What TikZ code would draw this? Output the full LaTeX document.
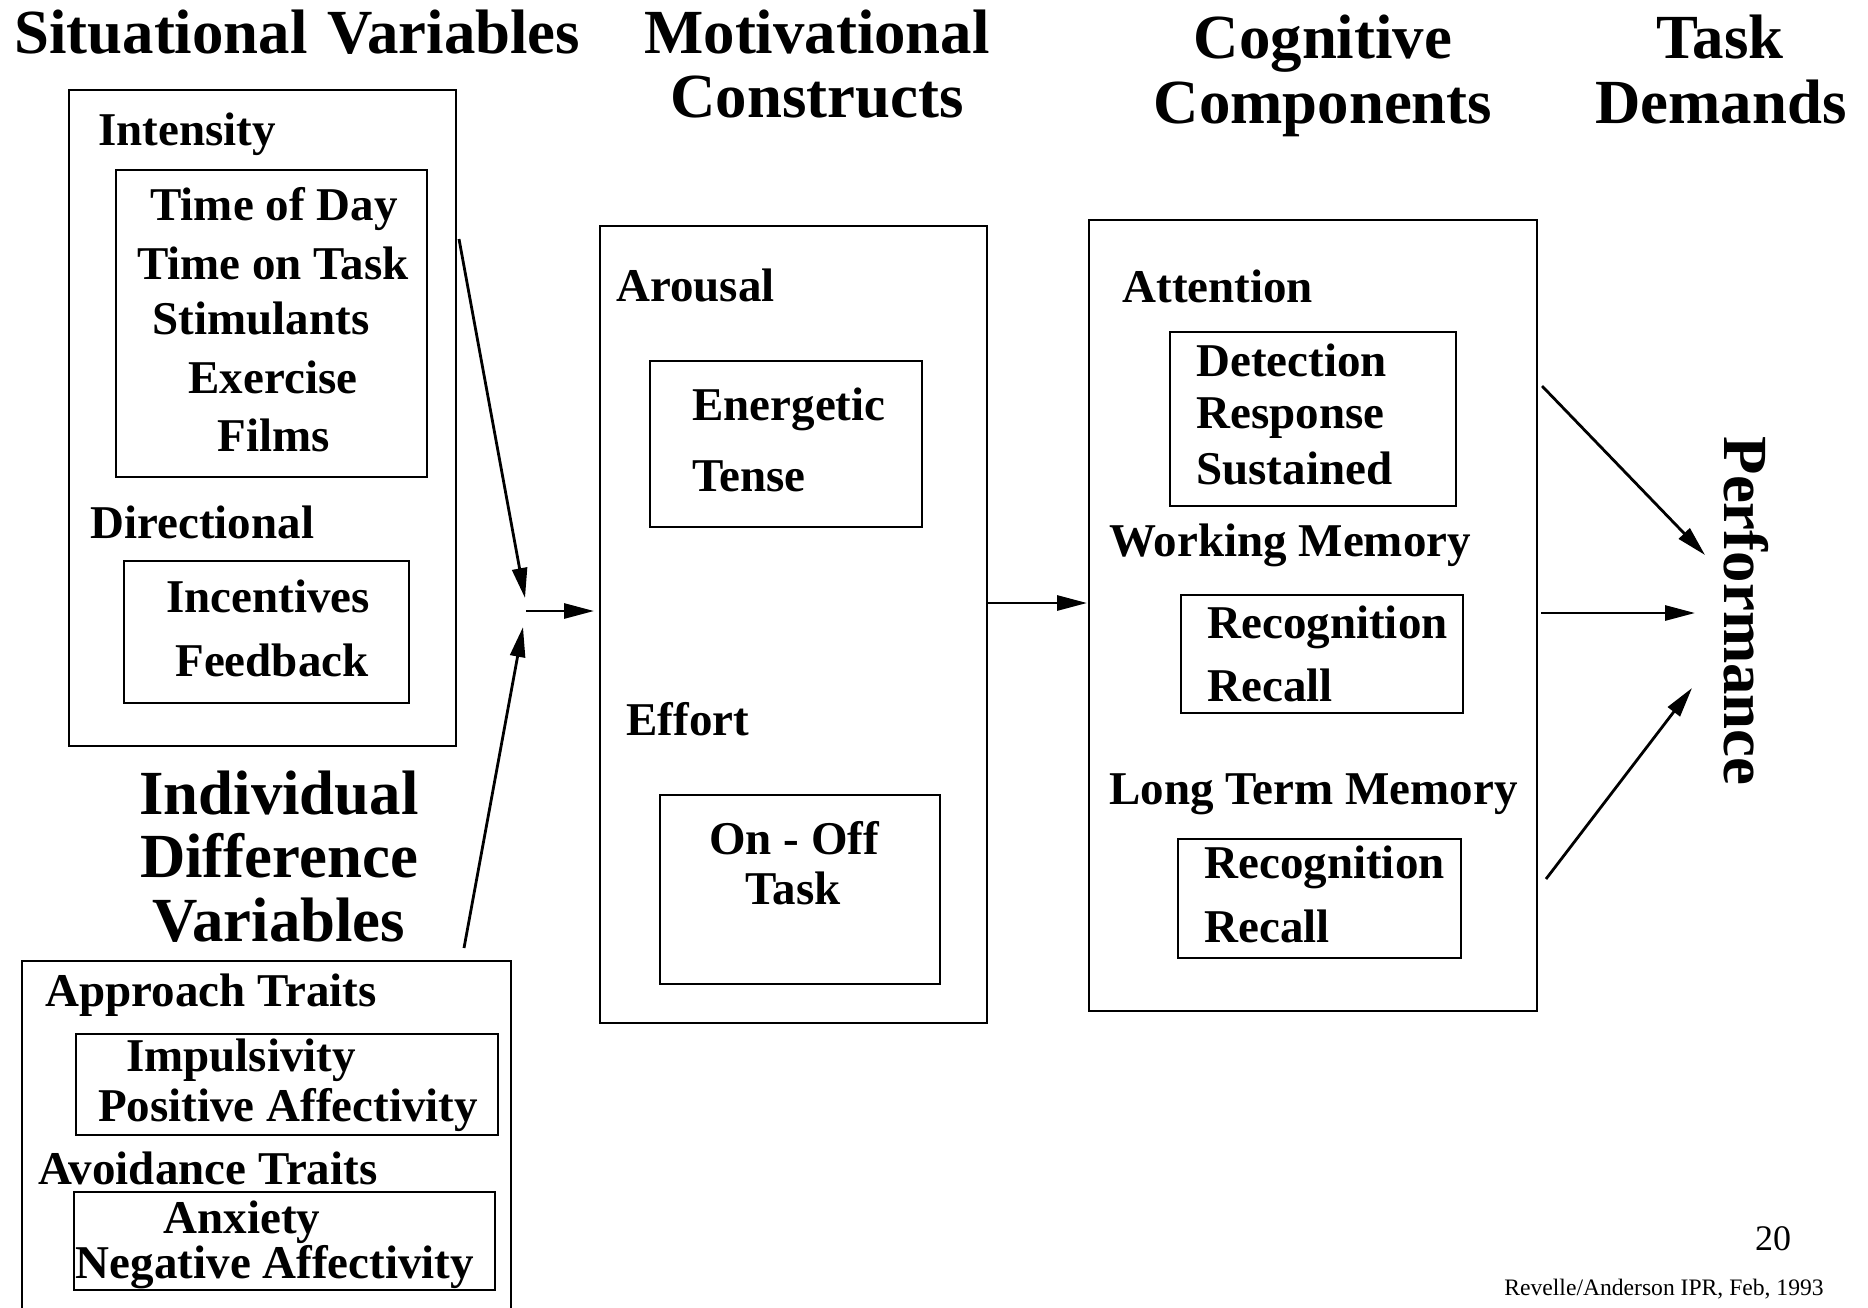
\documentclass[tikz,border=0pt]{standalone}
\usepackage{fontspec}
\setmainfont{Liberation Serif}
\usetikzlibrary{arrows.meta,fit}
\newcommand{\myTitleFont}{\fontsize{31.4}{31.4}\selectfont\bfseries}
\newcommand{\myTextFont}{\fontsize{23.5}{23.5}\selectfont\bfseries}
\begin{document}
\begin{tikzpicture}[x=0.5pt,y=-0.5pt,
  box/.style={draw, line width=1.1pt, inner sep=0pt},
  ttl/.style={font=\myTitleFont, inner sep=0pt, anchor=base},
  lbl/.style={font=\myTextFont, inner sep=0pt, anchor=base west},
  ctr/.style={font=\myTextFont, inner sep=0pt, anchor=base},
  arr/.style={-{Triangle[length=15pt,width=7.5pt]}, line width=1.4pt}]
\useasboundingbox (0,0) rectangle (1868,1307);
\fill[white] (0,0) rectangle (1868,1307);
\clip (0,0) rectangle (1868,1307);

% titles
\node[ttl, anchor=base west] (tsit) at (14,53) {Situational\hspace{0.32em}Variables};
\node[ttl] (tmot1) at (817,53) {Motivational};
\node[ttl] (tmot2) at (817,117) {Constructs};
\node[ttl] (tcog1) at (1323,58) {Cognitive};
\node[ttl] (tcog2) at (1323,123) {Components};
\node[ttl] (ttask1) at (1720,58) {Task};
\node[ttl] (ttask2) at (1721,123) {Demands};
\node[ttl] (tind1) at (279,814) {Individual};
\node[ttl] (tind2) at (279,877) {Difference};
\node[ttl] (tind3) at (279,941) {Variables};
\node[ttl, rotate=-90] (perf) at (1724,611) {Performance};

% situational variables
\node[box, fit={(69,90) (456,746)}] (sit) {};
\node[lbl] (lint) at (98,145) {Intensity};
\node[box, fit={(116,170) (427,477)}] (intbox) {};
\node[ctr] (s1) at (274,220) {Time of Day};
\node[ctr] (s2) at (273,279) {Time on Task};
\node[ctr] (s3) at (261,334) {Stimulants};
\node[ctr] (s4) at (273,393) {Exercise};
\node[ctr] (s5) at (274,451) {Films};
\node[lbl] (ldir) at (90,538) {Directional};
\node[box, fit={(124,561) (409,703)}] (dirbox) {};
\node[ctr] (d1) at (268,612) {Incentives};
\node[ctr] (d2) at (272,676) {Feedback};

% individual difference variables
\node[box, fit={(22,961) (511,1360)}] (ind) {};
\node[lbl] (lapp) at (45,1006) {Approach Traits};
\node[box, fit={(76,1034) (498,1135)}] (appbox) {};
\node[ctr] (i1) at (241,1071) {Impulsivity};
\node[ctr] (i2) at (288,1121) {Positive Affectivity};
\node[lbl] (lavo) at (38,1184) {Avoidance Traits};
\node[box, fit={(74,1192) (495,1290)}] (avobox) {};
\node[ctr] (i3) at (242,1233) {Anxiety};
\node[ctr] (i4) at (275,1278) {Negative Affectivity};

% motivational constructs
\node[box, fit={(600,226) (987,1023)}] (mot) {};
\node[lbl] (laro) at (616,301) {Arousal};
\node[box, fit={(650,361) (922,527)}] (arobox) {};
\node[lbl] (m1) at (692,420) {Energetic};
\node[lbl] (m2) at (692,491) {Tense};
\node[lbl] (leff) at (626,735) {Effort};
\node[box, fit={(660,795) (940,984)}] (effbox) {};
\node[ctr] (m3) at (794,854) {On - Off};
\node[ctr] (m4) at (793,904) {Task};

% cognitive components
\node[box, fit={(1089,220) (1537,1011)}] (cog) {};
\node[lbl] (latt) at (1122,302) {Attention};
\node[box, fit={(1170,332) (1456,506)}] (attbox) {};
\node[lbl] (c1) at (1196,376) {Detection};
\node[lbl] (c2) at (1196,428) {Response};
\node[lbl] (c3) at (1196,484) {Sustained};
\node[lbl] (lwm) at (1109,556) {Working Memory};
\node[box, fit={(1181,595) (1463,713)}] (wmbox) {};
\node[lbl] (c4) at (1207,638) {Recognition};
\node[lbl] (c5) at (1207,701) {Recall};
\node[lbl] (lltm) at (1109,804) {Long Term Memory};
\node[box, fit={(1178,839) (1461,958)}] (ltmbox) {};
\node[lbl] (c6) at (1204,878) {Recognition};
\node[lbl] (c7) at (1204,942) {Recall};

% footer
\node[inner sep=0pt, anchor=base, font=\fontsize{18}{18}\selectfont] (pg) at (1773,1250) {20};
\node[inner sep=0pt, anchor=base west, font=\fontsize{11.8}{11.8}\selectfont] (cred) at (1504,1295) {Revelle/Anderson IPR, Feb, 1993};

% connector points
\coordinate (sitout) at (459,239);
\coordinate (focusA) at (525,598);
\coordinate (focusS) at (526,611);
\coordinate (motin) at (594,611);
\coordinate (indout) at (464,948);
\coordinate (focusB) at (523,627);
\coordinate (motout) at (987,603);
\coordinate (cogin) at (1087,603);
\coordinate (cogout1) at (1542,386);
\coordinate (perfin1) at (1705,555);
\coordinate (cogout2) at (1541,613);
\coordinate (perfin2) at (1695,613);
\coordinate (cogout3) at (1546,879);
\coordinate (perfin3) at (1692,688);

\draw[arr] (sitout) -- (focusA);
\draw[arr] (focusS) -- (motin);
\draw[arr] (indout) -- (focusB);
\draw[arr] (motout) -- (cogin);
\draw[arr] (cogout1) -- (perfin1);
\draw[arr] (cogout2) -- (perfin2);
\draw[arr] (cogout3) -- (perfin3);
\end{tikzpicture}
\end{document}
